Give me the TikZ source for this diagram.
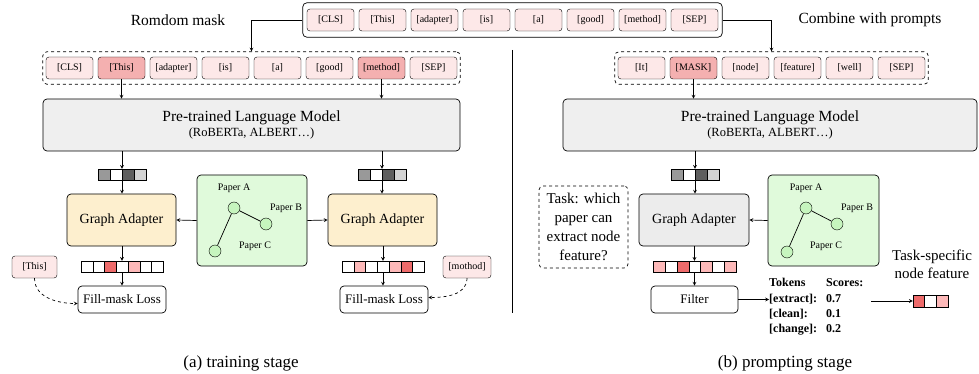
\documentclass[tikz,border=0pt]{standalone}
\usepackage{fontspec}
\setmainfont{Liberation Serif}
\usetikzlibrary{fit,arrows}

\definecolor{tokpink}{HTML}{FDE8E8}
\definecolor{maskpink}{HTML}{F4B0B0}
\definecolor{cellred}{HTML}{EE6B6B}
\definecolor{cellpink}{HTML}{FDB9B9}
\definecolor{plmgray}{HTML}{EFEFEF}
\definecolor{gaorange}{HTML}{FDEFCE}
\definecolor{gagray}{HTML}{ECECEC}
\definecolor{graphgreen}{HTML}{E0FADB}
\definecolor{nodegreen}{HTML}{C6F5BE}
\definecolor{gmid}{HTML}{999999}
\definecolor{gdark}{HTML}{5E5E5E}
\definecolor{glight}{HTML}{D3D3D3}

\begin{document}
\begin{tikzpicture}[x=1pt,y=-1pt,
 tok/.style={draw,rounded corners=3pt,fill=tokpink,minimum width=47pt,minimum height=22pt,inner sep=0pt,font=\fontsize{10}{12}\selectfont},
 box/.style={draw,rounded corners=4pt,line width=0.7pt},
 cell/.style={draw,line width=0.5pt},
 arr/.style={->,>=stealth,line width=0.7pt},
 pnode/.style={draw,circle,fill=nodegreen,minimum size=12pt,inner sep=0pt},
 plab/.style={font=\fontsize{10}{12}\selectfont},
 vec/.style={minimum height=11pt,inner sep=0pt}]
 \useasboundingbox (0,0) rectangle (979,374); %枠

 % 入力文
 \foreach \t [count=\i] in {{[CLS]},{[This]},{[adapter]},{[is]},{[a]},{[good]},{[method]},{[SEP]}}
  \node[tok] (t\i) at ({330.5+52*(\i-1)},20) {\t};
 \node[box,fit=(t1)(t8),inner xsep=4pt,inner ysep=6pt] (top) {};
 \node[font=\fontsize{15.5}{18}\selectfont] (lblL) at (178,20) {Romdom mask};
 \node[font=\fontsize{15.5}{18}\selectfont] (lblR) at (870,20) {Combine with prompts};

 % (a) マスク
 \foreach \t/\c [count=\i] in {{[CLS]}/tokpink,{[This]}/maskpink,{[adapter]}/tokpink,{[is]}/tokpink,{[a]}/tokpink,{[good]}/tokpink,{[method]}/maskpink,{[SEP]}/tokpink}
  \node[tok,fill=\c] (l\i) at ({69.5+52*(\i-1)},68) {\t};
 \node[draw,dashed,rounded corners=4pt,line width=0.7pt,fit=(l1)(l8),inner xsep=3pt,inner ysep=5pt] (lrow) {};

 % (b) プロンプト
 \foreach \t/\c [count=\i] in {{[It]}/tokpink,{[MASK]}/maskpink,{[node]}/tokpink,{[feature]}/tokpink,{[well]}/tokpink,{[SEP]}/tokpink}
  \node[tok,fill=\c] (r\i) at ({641.5+52*(\i-1)},68) {\t};
 \node[draw,dashed,rounded corners=4pt,line width=0.7pt,fit=(r1)(r6),inner xsep=3pt,inner ysep=5pt] (rrow) {};

 \draw[arr] (top.west) -| (lrow.north);
 \draw[arr] (top.east) -| (rrow.north);

 % 言語モデル
 \node[box,fill=plmgray,minimum width=417pt,minimum height=52pt,align=center] (plmL) at (251.5,125)
  {\fontsize{15.5}{18}\selectfont Pre-trained Language Model\\[2pt]\fontsize{12.5}{15}\selectfont (RoBERTa, ALBERT…)};
 \node[box,fill=plmgray,minimum width=414pt,minimum height=52pt,align=center] (plmP) at (770,125)
  {\fontsize{15.5}{18}\selectfont Pre-trained Language Model\\[2pt]\fontsize{12.5}{15}\selectfont (RoBERTa, ALBERT…)};
 \draw[arr] (l2.south) -- (l2.south |- plmL.north);
 \draw[arr] (l7.south) -- (l7.south |- plmL.north);
 \draw[arr] (r2.south) -- (r2.south |- plmP.north);

 % 隠れベクトル
 \node[vec,minimum width=48pt] (hL) at (122,174.5) {};
 \node[vec,minimum width=48pt] (hR) at (382,174.5) {};
 \node[vec,minimum width=48pt] (hP) at (695,174.5) {};
 \foreach \c [count=\i] in {gmid,white,gdark,glight} {
  \draw[cell,fill=\c] ({98+12*(\i-1)},169) rectangle ++(12,11);
  \draw[cell,fill=\c] ({358+12*(\i-1)},169) rectangle ++(12,11);
  \draw[cell,fill=\c] ({671+12*(\i-1)},169) rectangle ++(12,11);
 }
 \draw[arr] (plmL.south -| hL) -- (hL.north);
 \draw[arr] (plmL.south -| hR) -- (hR.north);
 \draw[arr] (plmP.south -| hP) -- (hP.north);

 % Graph Adapter
 \node[box,fill=gaorange,minimum width=109pt,minimum height=52pt,font=\fontsize{14}{17}\selectfont] (gaL) at (121.5,220) {Graph Adapter};
 \node[box,fill=gaorange,minimum width=109pt,minimum height=52pt,font=\fontsize{14}{17}\selectfont] (gaR) at (382.5,220) {Graph Adapter};
 \node[box,fill=gagray,minimum width=110pt,minimum height=52pt,font=\fontsize{14}{17}\selectfont] (gaP) at (694,220) {Graph Adapter};
 \draw[arr] (hL.south) -- (hL.south |- gaL.north);
 \draw[arr] (hR.south) -- (hR.south |- gaR.north);
 \draw[arr] (hP.south) -- (hP.south |- gaP.north);

 % グラフ
 \node[box,fill=graphgreen,minimum width=110pt,minimum height=91pt] (gL) at (252,220.5) {};
 \node[pnode] (aL) at (234,208) {};
 \node[pnode] (bL) at (266,224) {};
 \node[pnode] (cL) at (215,251) {};
 \node[plab] at (234,188) {Paper A};
 \node[plab] at (286,208) {Paper B};
 \node[plab] at (255,246) {Paper C};
 \draw[line width=0.7pt] (aL) -- (bL) (aL) -- (cL);
 \draw[arr] (gL.west) -- (gaL.east);
 \draw[arr] (gL.east) -- (gaR.west);

 \node[box,fill=graphgreen,minimum width=111pt,minimum height=91pt] (gP) at (823.5,220.5) {};
 \node[pnode] (aP) at (806,208) {};
 \node[pnode] (bP) at (837,224) {};
 \node[pnode] (cP) at (787,252) {};
 \node[plab] at (806,188) {Paper A};
 \node[plab] at (857,208) {Paper B};
 \node[plab] at (826,246) {Paper C};
 \draw[line width=0.7pt] (aP) -- (bP) (aP) -- (cP);
 \draw[arr] (gP.west) -- (gaP.east);

 % 出力ベクトル
 \node[vec,minimum width=82pt] (oL) at (122,266.5) {};
 \node[vec,minimum width=82pt] (oR) at (383,266.5) {};
 \node[vec,minimum width=82pt] (oP) at (694.5,266.5) {};
 \foreach \c [count=\i] in {white,white,cellred,white,cellpink,white,white}
  \draw[cell,fill=\c] ({81+11.75*(\i-1)},261) rectangle ++(11.75,11);
 \foreach \c [count=\i] in {white,cellpink,white,white,cellpink,cellred,white}
  \draw[cell,fill=\c] ({342+11.75*(\i-1)},261) rectangle ++(11.75,11);
 \foreach \c [count=\i] in {cellpink,white,cellred,white,cellpink,white,cellpink}
  \draw[cell,fill=\c] ({653.5+11.75*(\i-1)},261) rectangle ++(11.75,11);
 \draw[arr] (gaL.south -| oL) -- (oL.north);
 \draw[arr] (gaR.south -| oR) -- (oR.north);
 \draw[arr] (gaP.south -| oP) -- (oP.north);

 % 損失
 \node[box,fill=white,minimum width=88pt,minimum height=27pt,font=\fontsize{13}{15}\selectfont] (fmL) at (122,299.5) {Fill-mask Loss};
 \node[box,fill=white,minimum width=88pt,minimum height=27pt,font=\fontsize{13}{15}\selectfont] (fmR) at (384,299.5) {Fill-mask Loss};
 \node[box,fill=white,minimum width=87pt,minimum height=27pt,font=\fontsize{13}{15}\selectfont] (filter) at (694.5,299.5) {Filter};
 \draw[arr] (oL.south) -- (oL.south |- fmL.north);
 \draw[arr] (oR.south) -- (oR.south |- fmR.north);
 \draw[arr] (oP.south) -- (oP.south |- filter.north);

 \node[tok,minimum width=45pt] (sideL) at (34.5,267) {[This]};
 \node[tok,minimum width=48pt] (sideR) at (467,267) {[mothod]};
 \draw[arr,dashed] (sideL.south) to[out=-90,in=180] ([yshift=-4pt]fmL.west);
 \draw[arr,dashed] (sideR.south) to[out=-90,in=0] ([yshift=2pt]fmR.east);

 % タスク
 \node[draw,dashed,rounded corners=4pt,line width=0.7pt,minimum width=89pt,minimum height=82pt,align=center,font=\fontsize{15}{19}\selectfont] (task) at (583.5,227)
  {Task: which\\paper can\\extract node\\feature?};

 % スコア
 \node[anchor=north west,inner sep=0pt,font=\fontsize{12}{15.3}\selectfont\bfseries] (scores) at (769,276)
  {\begin{tabular}{@{}l@{\hspace{9pt}}l@{}}Tokens & Scores:\\ {[extract]:} & 0.7\\ {[clean]:} & 0.1\\ {[change]:} & 0.2\end{tabular}};
 \draw[arr] (filter.east) -- (filter.east -| scores.west);

 \coordinate (fs) at (871,301);
 \node[vec,minimum width=35pt,minimum height=12pt] (vF) at (930.5,301) {};
 \foreach \c [count=\i] in {cellred,white,cellpink}
  \draw[cell,fill=\c] ({913+11.67*(\i-1)},295) rectangle ++(11.67,12);
 \draw[arr] (fs) -- (vF.west);
 \node[align=center,font=\fontsize{15}{18}\selectfont] (feat) at (932,264) {Task-specific\\node feature};

 \draw[line width=0.7pt] (512,50) -- (512,313); %区切り

 \node[font=\fontsize{17}{20}\selectfont] (capA) at (241,363) {(a) training stage};
 \node[font=\fontsize{17}{20}\selectfont] (capB) at (785,363) {(b) prompting stage};
\end{tikzpicture}
\end{document}
